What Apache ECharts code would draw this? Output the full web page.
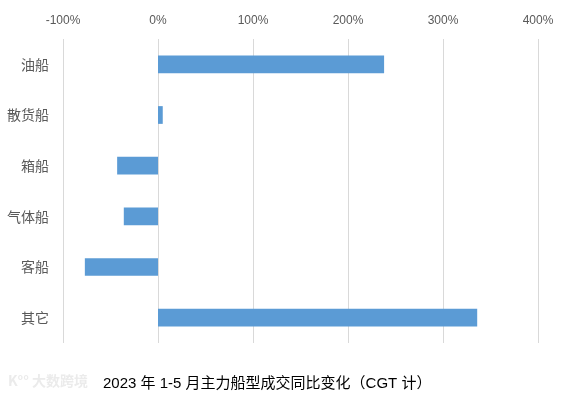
<!DOCTYPE html>
<html>
<head>
<meta charset="utf-8">
<script src="https://cdn.jsdelivr.net/npm/echarts@6/dist/echarts.min.js"></script>
<style>
  html, body { margin: 0; padding: 0; background: #fff; }
  #chart { width: 568px; height: 400px; }
</style>
</head>
<body>
<div id="chart"></div>
<script>
const categories = ['油船', '散货船', '箱船', '气体船', '客船', '其它']
const yoyChange = [238, 5, -43, -36, -77, 336]
const titleText = '2023 年 1-5 月主力船型成交同比变化（CGT 计）'

const chart = echarts.init(document.getElementById('chart'))

chart.setOption({
  animation: false,
  title: {
    text: titleText,
    left: 98,
    top: 371,
    textStyle: {
      fontFamily: '"Liberation Sans", "Noto Sans CJK SC", sans-serif',
      fontSize: 15,
      fontWeight: 'normal',
      color: '#000'
    }
  },
  graphic: [{
    type: 'text',
    left: 8,
    top: 374,
    style: {
      text: 'K°° 大数跨境',
      fill: '#ebebeb',
      font: 'bold 14px "Noto Sans CJK SC", sans-serif'
    }
  }],
  grid: {
    left: 63,
    right: 30,
    top: 39,
    bottom: 57
  },
  xAxis: {
    type: 'value',
    position: 'top',
    min: -100,
    max: 400,
    interval: 100,
    axisLine: { show: false },
    axisTick: { show: false },
    axisLabel: {
      formatter: '{value}%',
      color: '#595959',
      fontSize: 12,
      margin: 12,
      fontFamily: '"Liberation Sans", Arial, sans-serif'
    },
    splitLine: {
      lineStyle: { color: '#d9d9d9', width: 1 }
    }
  },
  yAxis: {
    type: 'category',
    inverse: true,
    data: categories,
    axisLine: { show: false },
    axisTick: { show: false },
    axisLabel: {
      color: '#595959',
      fontSize: 14,
      margin: 14,
      fontFamily: '"Noto Sans CJK SC", sans-serif'
    }
  },
  series: [{
    type: 'bar',
    data: yoyChange,
    barWidth: '35%',
    itemStyle: { color: '#5b9bd5' }
  }]
})
</script>
</body>
</html>
